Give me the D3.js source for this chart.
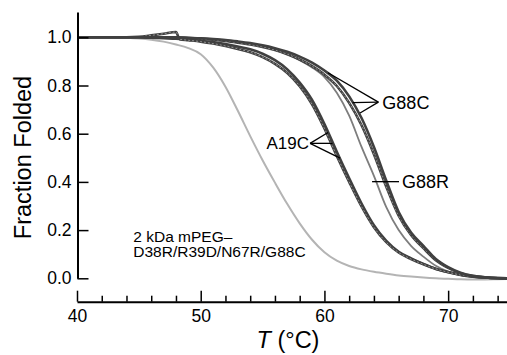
<!DOCTYPE html>
<html><head><meta charset="utf-8">
<script src="https://cdn.jsdelivr.net/npm/d3@7"></script>
<style>
html,body{margin:0;padding:0;background:#fff;}
svg{display:block;font-family:"Liberation Sans",Arial,Helvetica,sans-serif;}
</style></head>
<body><svg id="c" width="507" height="355"></svg>
<script>
// ---- data ----
const tempsStd = [40,41,42,43,44,45,46,47,48,49,50,51,52,53,54,55,56,57,58,59,60,61,62,63,64,65,66,67,68,69,70,71,72,73,74,75];
const mpegValues = [1.0,1.0,1.0,1.0,0.998,0.995,0.99,0.982,0.97,0.955,0.93,0.875,0.795,0.695,0.59,0.49,0.397,0.308,0.228,0.16,0.108,0.073,0.051,0.037,0.027,0.019,0.012,0.007,0.003,0.0,-0.002,-0.004,-0.005,-0.005,-0.004,-0.003];
const a19cValues = [1.0,1.0,1.0,1.0,1.0,1.0,0.998,0.996,0.994,0.99,0.986,0.98,0.972,0.962,0.95,0.932,0.905,0.867,0.812,0.74,0.64,0.525,0.415,0.31,0.22,0.155,0.11,0.083,0.06,0.04,0.026,0.015,0.008,0.003,0.0,-0.002];
const tempsA19cB = [40,41,42,43,44,45,46,47,48,48.3,49,50,51,52,53,54,55,56,57,58,59,60,61,62,63,64,65,66,67,68,69,70,71,72,73,74,75];
const a19cBValues = [1.0,1.0,1.0,1.0,1.0,1.002,1.008,1.015,1.022,0.992,0.988,0.982,0.974,0.964,0.952,0.938,0.918,0.89,0.852,0.797,0.722,0.622,0.508,0.40,0.298,0.212,0.15,0.107,0.08,0.058,0.039,0.025,0.014,0.007,0.003,0.0,-0.002];
const g88cValues = [1.0,1.0,1.0,1.0,1.0,1.0,1.0,1.0,1.0,0.998,0.996,0.993,0.989,0.983,0.976,0.967,0.955,0.94,0.92,0.895,0.862,0.82,0.755,0.665,0.545,0.405,0.275,0.19,0.135,0.08,0.046,0.023,0.01,0.004,0.001,0.0];
const g88cBValues = [1.0,1.0,1.0,1.0,1.0,1.0,1.0,1.0,0.999,0.997,0.994,0.99,0.985,0.978,0.97,0.96,0.947,0.93,0.908,0.88,0.845,0.798,0.728,0.635,0.515,0.38,0.26,0.18,0.125,0.075,0.043,0.021,0.009,0.004,0.001,0.0];
const g88rValues = [1.0,1.0,1.0,1.0,1.0,1.0,1.0,1.0,1.0,0.998,0.995,0.992,0.987,0.98,0.972,0.962,0.948,0.93,0.905,0.875,0.835,0.77,0.675,0.545,0.425,0.295,0.20,0.135,0.09,0.052,0.028,0.014,0.007,0.003,0.001,0.0];

const yTickValues = [0.0,0.2,0.4,0.6,0.8,1.0];
const xMajorTicks = [40,50,60,70];
const xMinorTicks = [42,44,46,48,52,54,56,58,62,64,66,68,72,74];

// annotation anchors in data units [T, fraction]
const a19cLabel = {text:"A19C", vertex:[58.84,0.56], ends:[[60.29,0.605],[60.65,0.56],[61.26,0.499]]};
const g88cLabel = {text:"G88C", vertex:[64.36,0.731], ends:[[60.29,0.853],[62.27,0.729],[62.88,0.686]]};
const g88rLabel = {text:"G88R", from:[63.85,0.401], to:[66.03,0.401]};
const noteLines = ["2 kDa mPEG\u2013","D38R/R39D/N67R/G88C"];

// ---- drawing ----
const svg = d3.select("#c");
const x = d3.scaleLinear().domain([40,75]).range([77,510]);
const y = d3.scaleLinear().domain([0,1.105]).range([278.3,12]);
const xAxisY = 301.7;

const line = d3.line().x(d=>x(d[0])).y(d=>y(d[1])).curve(d3.curveMonotoneX);
const zip = (t,v)=>t.map((tt,i)=>[tt,v[i]]);

const dark = "#404040";
svg.append("path").attr("d", line(zip(tempsStd, mpegValues)))
  .attr("fill","none").attr("stroke","#b4b4b4").attr("stroke-width",2);
svg.append("path").attr("d", line(zip(tempsStd, g88rValues)))
  .attr("fill","none").attr("stroke","#7d7d7d").attr("stroke-width",1.8);
[[tempsStd,a19cValues,false],[tempsA19cB,a19cBValues,true],[tempsStd,g88cBValues,true],[tempsStd,g88cValues,false]].forEach(([t,v,dashed])=>{
  svg.append("path").attr("d", line(zip(t,v)))
    .attr("fill","none").attr("stroke",dark).attr("stroke-width",2.6);
  if (dashed) {
    svg.append("path").attr("d", line(zip(t,v)))
      .attr("fill","none").attr("stroke","#a8a8a8").attr("stroke-width",0.8)
      .attr("stroke-dasharray","2,2");
  }
});

// Y axis
const yAxis = d3.axisLeft(y).tickValues(yTickValues).tickSizeInner(-11).tickSizeOuter(0)
  .tickPadding(6).tickFormat(d3.format(".1f"));
const gy = svg.append("g").attr("transform","translate(77.5,0)").call(yAxis);
gy.select(".domain").attr("stroke","#000").attr("stroke-width",2);
gy.selectAll(".tick line").attr("stroke","#000").attr("stroke-width",1.5);
gy.selectAll(".tick text").attr("font-size","17.5px").attr("fill","#000")
  .attr("font-family","'Liberation Sans',Arial,sans-serif");

// X axis
const gxMinor = svg.append("g").attr("transform",`translate(0,${xAxisY})`)
  .call(d3.axisBottom(x).tickValues(xMinorTicks).tickSizeInner(-6).tickSizeOuter(0).tickFormat(""));
gxMinor.select(".domain").remove();
gxMinor.selectAll(".tick line").attr("stroke","#000").attr("stroke-width",1.5);
const gx = svg.append("g").attr("transform",`translate(0,${xAxisY})`)
  .call(d3.axisBottom(x).tickValues(xMajorTicks).tickSizeInner(-11).tickSizeOuter(0).tickPadding(8));
gx.select(".domain").attr("stroke","#000").attr("stroke-width",2);
gx.selectAll(".tick line").attr("stroke","#000").attr("stroke-width",1.5);
gx.selectAll(".tick text").attr("font-size","17.5px").attr("fill","#000")
  .attr("font-family","'Liberation Sans',Arial,sans-serif");

// Axis titles
svg.append("text").attr("transform","translate(31,157.5) rotate(-90)")
  .attr("text-anchor","middle").attr("font-size","23.5px").attr("fill","#000")
  .text("Fraction Folded");
const xt = svg.append("text").attr("x",288).attr("y",348).attr("text-anchor","middle")
  .attr("font-size","23.5px").attr("fill","#000");
xt.append("tspan").attr("font-style","italic").text("T");
xt.append("tspan").text(" (\u00B0C)");

// Annotations
function pointer(lbl){
  const [vx,vy] = [x(lbl.vertex[0]), y(lbl.vertex[1])];
  lbl.ends.forEach(e=>{
    svg.append("line").attr("x1",vx).attr("y1",vy).attr("x2",x(e[0])).attr("y2",y(e[1]))
      .attr("stroke","#000").attr("stroke-width",1.3);
  });
  return [vx,vy];
}
const [ax,ay] = pointer(a19cLabel);
svg.append("text").attr("x",ax-1).attr("y",ay).attr("dy","0.36em").attr("text-anchor","end")
  .attr("font-size","17px").attr("fill","#000").text(a19cLabel.text);
const [gxv,gyv] = pointer(g88cLabel);
svg.append("text").attr("x",gxv+4).attr("y",gyv).attr("dy","0.36em").attr("text-anchor","start")
  .attr("font-size","18px").attr("fill","#000").text(g88cLabel.text);
svg.append("line").attr("x1",x(g88rLabel.from[0])).attr("y1",y(g88rLabel.from[1]))
  .attr("x2",x(g88rLabel.to[0])).attr("y2",y(g88rLabel.to[1]))
  .attr("stroke","#000").attr("stroke-width",1.3);
svg.append("text").attr("x",x(g88rLabel.to[0])+3).attr("y",y(g88rLabel.to[1])).attr("dy","0.36em")
  .attr("font-size","18px").attr("fill","#000").text(g88rLabel.text);

const note = svg.append("text").attr("x",x(44.55)).attr("y",y(0.152))
  .attr("font-size","15.5px").attr("fill","#000");
noteLines.forEach((t,i)=>note.append("tspan").attr("x",x(44.55)).attr("dy", i===0?0:15.6).text(t));
</script></body></html>
